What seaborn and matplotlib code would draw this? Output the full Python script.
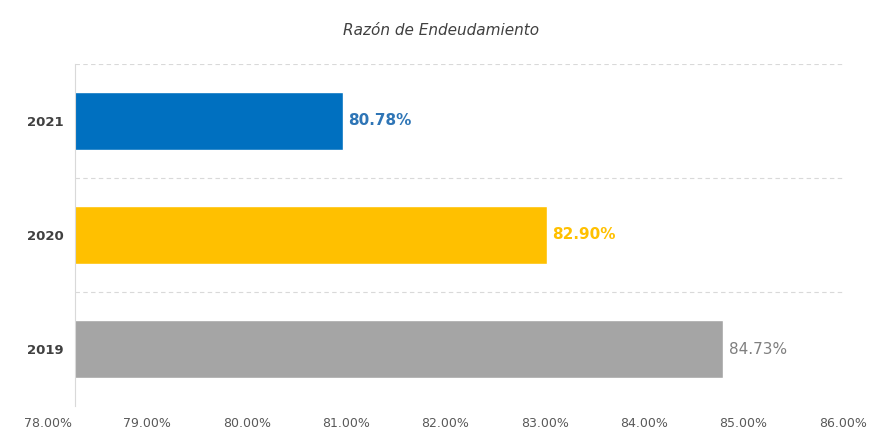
import matplotlib
matplotlib.use('Agg')
import matplotlib.pyplot as plt
import matplotlib.transforms as mtransforms
import seaborn as sns
import pandas as pd

# data
years = ['2021', '2020', '2019']
ratios = [80.78, 82.90, 84.73]
bar_colors = ['#0070C0', '#FFC000', '#A5A5A5']
label_colors = ['#2E75B6', '#FFC000', '#7F7F7F']
x_ticks = [78, 79, 80, 81, 82, 83, 84, 85, 86]

df = pd.DataFrame({'year': years, 'ratio': ratios})

sns.set_theme(style='white')
plt.rcParams['font.family'] = ['DejaVu Sans']

fig = plt.figure(figsize=(8.83, 4.38), dpi=100)
ax = fig.add_axes([0.085, 0.073, 0.872, 0.781])

sns.barplot(data=df, x='ratio', y='year', hue='year', palette=bar_colors,
            order=years, hue_order=years, orient='h', width=0.51,
            saturation=1, legend=False, ax=ax)

ax.set_xlim(78, 86)
ax.set_ylim(2.5, -0.5)
ax.set_xticks(x_ticks)
ax.set_xticklabels([f'{t:.2f}%' for t in x_ticks], fontsize=9, color='#595959')
ax.tick_params(axis='x', length=0, pad=8)
ax.tick_params(axis='y', length=0, pad=8, labelsize=9.5, labelcolor='#404040')
# tick labels in the original drift left of their ticks
for i, lab in enumerate(ax.get_xticklabels()):
    offset = mtransforms.ScaledTranslation((-27 + 3.1 * i) / 100, 0, fig.dpi_scale_trans)
    lab.set_transform(lab.get_transform() + offset)

for lab in ax.get_yticklabels():
    lab.set_fontweight('bold')

# dashed separators between categories
for yy in [-0.5, 0.5, 1.5]:
    ax.axhline(yy, color='#D9D9D9', lw=0.8, ls=(0, (4, 3)), zorder=0)

for s in ['top', 'right', 'bottom']:
    ax.spines[s].set_visible(False)
ax.spines['left'].set_color('#D9D9D9')
ax.spines['left'].set_linewidth(0.8)

for i, (v, c) in enumerate(zip(ratios, label_colors)):
    ax.text(v + 0.06, i, f'{v:.2f}%', va='center', ha='left',
            fontsize=11, color=c, fontweight='bold' if i < 2 else 'normal')

ax.set_xlabel('')
ax.set_ylabel('')
fig.text(0.5, 0.93, 'Razón de Endeudamiento', ha='center', va='center',
         fontsize=11, style='italic', color='#404040')

fig.savefig('out.png', dpi=100)
